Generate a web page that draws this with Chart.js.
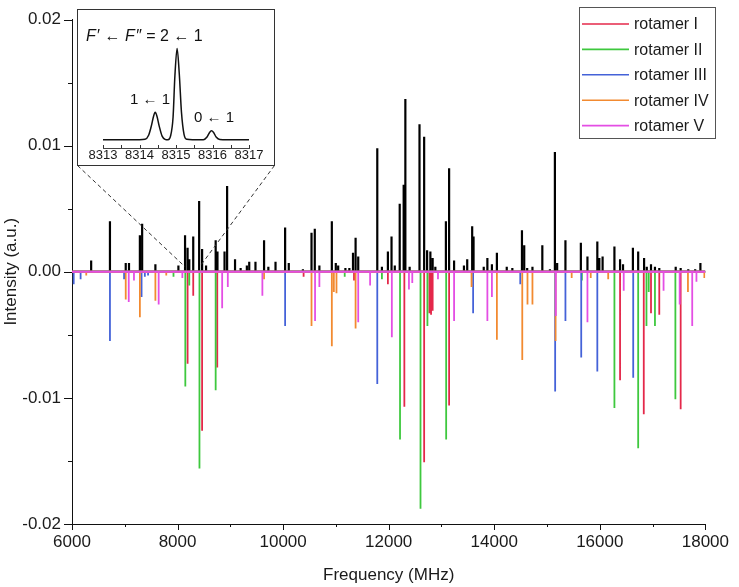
<!DOCTYPE html>
<html>
<head>
<meta charset="utf-8">
<title>Rotamer spectrum</title>
<script src="https://cdn.jsdelivr.net/npm/chart.js"></script>
<style>
  body { margin: 0; background: #fff; font-family: "Liberation Sans", Arial, sans-serif; }
  #wrap { position: relative; width: 739px; height: 587px; }
  #inset { position: absolute; left: 77px; top: 9px; width: 198px; height: 157px;
           box-sizing: border-box; border: 1px solid #333; background: #fff; }
  #inset canvas { position: absolute; left: 0; top: 0; }
  .lbl { position: absolute; white-space: nowrap; line-height: 1; color: #111; font-size: 15px; }
</style>
</head>
<body>
<div id="wrap">
  <canvas id="spectrum" width="739" height="587"></canvas>
  <div id="inset">
    <canvas id="zoomChart" width="196" height="155"></canvas>
    <div class="lbl" style="left:8px; top:18px; font-size:16px;"><i>F</i>&#8202;′ ← <i>F</i>&#8202;″ = 2 ← 1</div>
    <div class="lbl" style="left:52px; top:81px;">1 ← 1</div>
    <div class="lbl" style="left:116px; top:99px;">0 ← 1</div>
  </div>
</div>

<script>
// axis ranges
const X_MIN = 6000, X_MAX = 18000;
const Y_MIN = -0.02, Y_MAX = 0.02;

// experimental spectrum (MHz, a.u.)
const expFreq = [
  6363, 6719, 7018, 7080, 7286, 7329, 7580, 8016, 8142, 8190,
  8222, 8297, 8409, 8465, 8540, 8722, 8756, 8890, 8939, 9089,
  9195, 9313, 9358, 9476, 9639, 9720, 9856, 10038, 10107, 10375,
  10538, 10600, 10687, 10923, 10998, 11043, 11180, 11255, 11324, 11373,
  11423, 11784, 11872, 11985, 12054, 12116, 12209, 12284, 12316, 12397,
  12584, 12672, 12728, 12790, 12833, 12884, 13084, 13145, 13239, 13426,
  13488, 13582, 13608, 13801, 13870, 13956, 14050, 14237, 14343, 14525,
  14568, 14624, 14724, 14911, 15055, 15149, 15192, 15349, 15641, 15766,
  15953, 15991, 16053, 16277, 16384, 16440, 16627, 16727, 16839, 16890,
  16970, 17045, 17127, 17438, 17532, 17676, 17807, 17906
];
const expInt = [
  0.0009, 0.0040, 0.0007, 0.0007, 0.0029, 0.0038, 0.0006, 0.0005, 0.0029, 0.0019,
  0.0010, 0.0028, 0.0056, 0.0018, 0.0005, 0.0025, 0.0016, 0.0016, 0.0068, 0.0010,
  0.0003, 0.0005, 0.0008, 0.0008, 0.0025, 0.0004, 0.0008, 0.0035, 0.0007, 0.0002,
  0.0031, 0.0034, 0.0005, 0.0040, 0.0007, 0.0005, 0.0003, 0.0003, 0.0015, 0.0027,
  0.0012, 0.0098, 0.0004, 0.0016, 0.0028, 0.0005, 0.0054, 0.0069, 0.0137, 0.0004,
  0.0117, 0.0107, 0.0017, 0.0016, 0.0011, 0.0004, 0.0040, 0.0082, 0.0009, 0.0005,
  0.0010, 0.0036, 0.0028, 0.0004, 0.0011, 0.0006, 0.0015, 0.0004, 0.0003, 0.0033,
  0.0021, 0.0003, 0.0004, 0.0021, 0.0002, 0.0095, 0.0007, 0.0025, 0.0023, 0.0012,
  0.0024, 0.0011, 0.0012, 0.0020, 0.0010, 0.0006, 0.0019, 0.0016, 0.0011, 0.0004,
  0.0006, 0.0004, 0.0003, 0.0004, 0.0003, 0.0002, 0.0002, 0.0007
];

// predicted lines, drawn downward
const rot1Freq = [8190, 8297, 8465, 8752, 10388, 11343, 11985, 12297, 12672, 12771,
                  12803, 12833, 13145, 16384, 16833, 16970, 17127, 17532];
const rot1Int  = [-0.0073, -0.0019, -0.0126, -0.0076, -0.0004, -0.0007, -0.0010, -0.0107, -0.0151, -0.0033,
                  -0.0034, -0.0031, -0.0106, -0.0086, -0.0113, -0.0033, -0.0034, -0.0109];

const rot2Freq = [7923, 8147, 8222, 8415, 8722, 11167, 11872, 12215, 12603, 12734,
                  13089, 15660, 16277, 16727, 16884, 16927, 17045, 17432];
const rot2Int  = [-0.0004, -0.0091, -0.0011, -0.0156, -0.0094, -0.0004, -0.0006, -0.0133, -0.0188, -0.0043,
                  -0.0133, -0.0007, -0.0108, -0.0140, -0.0043, -0.0016, -0.0043, -0.0101];

const rot3Freq = [6032, 6163, 6719, 6987, 7318, 7380, 7441, 10038, 11784, 13600,
                  14493, 15154, 15349, 15648, 15953, 16633];
const rot3Int  = [-0.0010, -0.0006, -0.0055, -0.0006, -0.0020, -0.0004, -0.0003, -0.0043, -0.0089, -0.0033,
                  -0.0010, -0.0095, -0.0039, -0.0068, -0.0079, -0.0084];

const rot4Freq = [6270, 7018, 7286, 7580, 7786, 9639, 10538, 10923, 10961, 11011,
                  11373, 13570, 14050, 14531, 14630, 14724, 15162, 15467, 15828, 16159,
                  17670, 17981];
const rot4Int  = [-0.0003, -0.0022, -0.0036, -0.0023, -0.0003, -0.0006, -0.0043, -0.0059, -0.0016, -0.0017,
                  -0.0045, -0.0012, -0.0054, -0.0070, -0.0026, -0.0026, -0.0055, -0.0005, -0.0005, -0.0006,
                  -0.0016, -0.0005];

const rot5Freq = [7075, 7174, 7642, 8091, 8845, 8952, 9607, 10605, 10687, 11423,
                  11648, 12060, 12384, 12447, 12934, 13239, 13870, 13956, 15167, 15766,
                  16453, 17208, 17513, 17751, 17831];
const rot5Int  = [-0.0024, -0.0007, -0.0026, -0.0005, -0.0029, -0.0012, -0.0019, -0.0039, -0.0012, -0.0040,
                  -0.0011, -0.0052, -0.0014, -0.0009, -0.0006, -0.0039, -0.0039, -0.0020, -0.0035, -0.0040,
                  -0.0015, -0.0015, -0.0026, -0.0043, -0.0008];

const rotLabels = ['rotamer I', 'rotamer II', 'rotamer III', 'rotamer IV', 'rotamer V'];
const rotColors = ['#e4284a', '#3ec83e', '#4462d8', '#f28a30', '#e44ee4'];

// inset: hyperfine profile of one line (MHz, relative intensity)
const zoomFreq = [8313.00, 8313.50, 8314.00, 8314.15, 8314.25, 8314.33, 8314.38, 8314.43, 8314.48, 8314.54,
                  8314.62, 8314.70, 8314.78, 8314.85, 8314.92, 8314.97, 8315.03, 8315.09, 8315.15, 8315.22,
                  8315.30, 8315.45, 8315.75, 8315.85, 8315.92, 8315.97, 8316.03, 8316.10, 8316.20, 8316.40,
                  8317.00];
const zoomInt  = [0.000, 0.000, 0.000, 0.005, 0.050, 0.160, 0.250, 0.300, 0.255, 0.150,
                  0.040, 0.005, 0.000, 0.040, 0.250, 0.700, 1.000, 0.720, 0.300, 0.060,
                  0.005, 0.000, 0.000, 0.030, 0.080, 0.098, 0.080, 0.030, 0.003, 0.000,
                  0.000];
// where the inset was taken from on the main axis
const zoomFrom = [8140, 8420];
const zoomFromY = 0.0004;

Chart.defaults.font.family = "'Liberation Sans', Arial, sans-serif";
Chart.defaults.color = '#1a1a1a';

// sticks joined along the zero line, like a plotted stick spectrum
function stickLine(freqs, ints) {
  const order = freqs.map((f, i) => i).sort((a, b) => freqs[a] - freqs[b]);
  const pts = [{x: X_MIN, y: 0}];
  order.forEach(i => {
    pts.push({x: freqs[i], y: 0}, {x: freqs[i], y: ints[i]}, {x: freqs[i], y: 0});
  });
  pts.push({x: X_MAX, y: 0});
  return pts;
}

const rotSeries = [[rot1Freq, rot1Int], [rot2Freq, rot2Int], [rot3Freq, rot3Int],
                   [rot4Freq, rot4Int], [rot5Freq, rot5Int]];

const datasets = [{
  label: 'experiment',
  data: stickLine(expFreq, expInt),
  borderColor: '#000',
  borderWidth: 2.2
}].concat(rotSeries.map((s, i) => ({
  label: rotLabels[i],
  data: stickLine(s[0], s[1]),
  borderColor: rotColors[i],
  borderWidth: 1.8
})));
// later series on top, so rotamer V lies over the zero line
datasets.forEach((d, i) => {
  d.order = datasets.length - i;
  d.pointRadius = 0;
  d.tension = 0;
  d.borderJoinStyle = 'bevel';
  d.fill = false;
});

const axisTicks = {
  id: 'axisTicks',
  afterDraw(chart) {
    const {ctx, chartArea: a, scales: {x, y}} = chart;
    ctx.save();
    ctx.strokeStyle = '#111';
    ctx.lineWidth = 1;
    ctx.beginPath();
    for (let v = X_MIN; v <= X_MAX; v += 1000) {
      const px = Math.round(x.getPixelForValue(v)) + 0.5;
      const len = v % 2000 === 0 ? 6 : 3;
      ctx.moveTo(px, a.bottom);
      ctx.lineTo(px, a.bottom + len);
    }
    for (let k = -4; k <= 4; k++) {
      const py = Math.round(y.getPixelForValue(k * 0.005)) + 0.5;
      const len = k % 2 === 0 ? 8 : 4;
      ctx.moveTo(a.left - len, py);
      ctx.lineTo(a.left, py);
    }
    ctx.stroke();
    ctx.restore();
  }
};

const boxLegend = {
  id: 'boxLegend',
  afterDraw(chart) {
    const ctx = chart.ctx;
    const sets = chart.data.datasets.slice(1);
    ctx.save();
    ctx.fillStyle = '#fff';
    ctx.fillRect(579.5, 7.5, 136, 131);
    ctx.strokeStyle = '#555';
    ctx.lineWidth = 1;
    ctx.strokeRect(579.5, 7.5, 136, 131);
    ctx.font = "16px 'Liberation Sans', Arial, sans-serif";
    ctx.textBaseline = 'middle';
    sets.forEach((d, i) => {
      const yy = 24 + i * 25.4;
      ctx.strokeStyle = d.borderColor;
      ctx.lineWidth = 1.6;
      ctx.beginPath();
      ctx.moveTo(582, yy);
      ctx.lineTo(629, yy);
      ctx.stroke();
      ctx.fillStyle = '#1a1a1a';
      ctx.fillText(d.label, 634, yy + 1);
    });
    ctx.restore();
  }
};

const connectors = {
  id: 'connectors',
  afterDatasetsDraw(chart) {
    const {ctx, scales: {x, y}} = chart;
    const yy = y.getPixelForValue(zoomFromY);
    ctx.save();
    ctx.strokeStyle = '#333';
    ctx.lineWidth = 1;
    ctx.setLineDash([4, 3]);
    ctx.beginPath();
    ctx.moveTo(77.5, 165.5);
    ctx.lineTo(x.getPixelForValue(zoomFrom[0]), yy);
    ctx.moveTo(274.5, 165.5);
    ctx.lineTo(x.getPixelForValue(zoomFrom[1]), yy);
    ctx.stroke();
    ctx.restore();
  }
};

new Chart(document.getElementById('spectrum'), {
  type: 'line',
  data: { datasets: datasets },
  options: {
    responsive: false,
    animation: false,
    layout: { padding: { left: 0, right: 26, top: 9, bottom: 0 } },
    plugins: { legend: { display: false }, tooltip: { enabled: false } },
    scales: {
      x: {
        type: 'linear',
        min: X_MIN,
        max: X_MAX,
        grid: { display: false, drawTicks: false },
        border: { display: true, color: '#111', width: 1 },
        ticks: {
          stepSize: 2000,
          padding: 10,
          maxRotation: 0,
          font: { size: 17, lineHeight: 1 },
          callback: v => String(v)
        },
        title: { display: true, text: 'Frequency (MHz)', font: { size: 17 }, padding: { top: 0, bottom: 1 } },
        afterFit: s => { s.height = 63; }
      },
      y: {
        min: Y_MIN,
        max: Y_MAX,
        grid: { display: false, drawTicks: false },
        border: { display: true, color: '#111', width: 1 },
        ticks: {
          stepSize: 0.01,
          padding: 11,
          font: { size: 17, lineHeight: 1 },
          callback: v => v.toFixed(2)
        },
        title: { display: true, text: 'Intensity (a.u.)', font: { size: 17 }, padding: { top: 1, bottom: 0 } },
        afterFit: s => { s.width = 72; }
      }
    }
  },
  plugins: [connectors, axisTicks, boxLegend]
});

// inset chart
const insetTicks = {
  id: 'insetTicks',
  afterDraw(chart) {
    const {ctx, chartArea: a, scales: {x}} = chart;
    ctx.save();
    ctx.strokeStyle = '#333';
    ctx.lineWidth = 1;
    ctx.beginPath();
    for (let v = 8313; v <= 8317; v += 0.5) {
      const px = Math.round(x.getPixelForValue(v)) + 0.5;
      ctx.moveTo(px, a.bottom);
      ctx.lineTo(px, a.bottom - 3);
    }
    ctx.stroke();
    ctx.restore();
  }
};

new Chart(document.getElementById('zoomChart'), {
  type: 'line',
  data: {
    datasets: [{
      data: zoomFreq.map((f, i) => ({x: f, y: zoomInt[i]})),
      borderColor: '#111',
      borderWidth: 1.5,
      pointRadius: 0,
      cubicInterpolationMode: 'monotone',
      fill: false
    }]
  },
  options: {
    responsive: false,
    animation: false,
    layout: { padding: { left: 25, right: 25, top: 0, bottom: 0 } },
    plugins: { legend: { display: false }, tooltip: { enabled: false } },
    scales: {
      x: {
        type: 'linear',
        min: 8313,
        max: 8317,
        grid: { display: false, drawTicks: false },
        border: { display: true, color: '#444', width: 1 },
        ticks: {
          stepSize: 1,
          padding: 1,
          autoSkip: false,
          maxRotation: 0,
          font: { size: 13, lineHeight: 1 },
          callback: v => String(v)
        },
        afterFit: s => { s.height = 17; }
      },
      y: { display: false, min: -0.09, max: 1.42 }
    }
  },
  plugins: [insetTicks]
});
</script>
</body>
</html>
